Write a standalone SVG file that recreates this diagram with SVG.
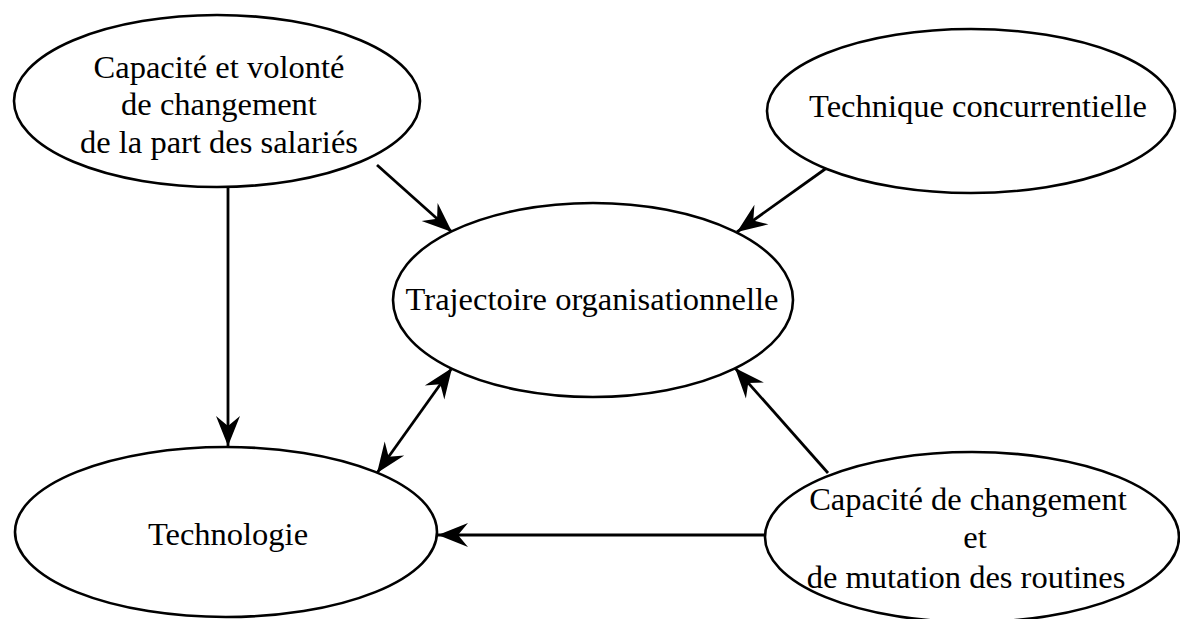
<svg xmlns="http://www.w3.org/2000/svg" width="1180" height="619" viewBox="0 0 1180 619">
  <style>
    .node ellipse { fill: #ffffff; stroke: #000000; stroke-width: 2.6; }
    .node text { font-family: "Liberation Serif", "Times New Roman", serif; font-size: 32.5px; fill: #000000; text-anchor: middle; }
    .edges line { stroke: #000000; stroke-width: 2.8; fill: none; }
  </style>
  <defs>
    <marker id="arrow" markerUnits="userSpaceOnUse" markerWidth="34" markerHeight="28" viewBox="-32 -14 34 28" refX="0" refY="0" orient="auto-start-reverse">
      <path d="M0,0 L-30,-12 L-20,0 L-30,12 Z" fill="#000000"/>
    </marker>
  </defs>

  <rect width="1180" height="619" fill="#ffffff"/>

  <g id="edges" class="edges">
    <line x1="228" y1="188" x2="228" y2="446" marker-end="url(#arrow)"/>
    <line x1="377" y1="165" x2="452" y2="232" marker-end="url(#arrow)"/>
    <line x1="828" y1="167" x2="737" y2="232" marker-end="url(#arrow)"/>
    <line x1="452" y1="368" x2="377" y2="473" marker-start="url(#arrow)" marker-end="url(#arrow)"/>
    <line x1="828" y1="473" x2="735" y2="368" marker-end="url(#arrow)"/>
    <line x1="765" y1="535" x2="438" y2="535" marker-end="url(#arrow)"/>
  </g>

  <g id="capacite-volonte" class="node">
    <ellipse cx="217" cy="101" rx="203" ry="86"/>
    <text x="219" y="78">Capacité et volonté</text>
    <text x="219" y="115">de changement</text>
    <text x="219" y="153">de la part des salariés</text>
  </g>

  <g id="technique-concurrentielle" class="node">
    <ellipse cx="971" cy="111" rx="204" ry="82"/>
    <text x="978" y="117">Technique concurrentielle</text>
  </g>

  <g id="trajectoire" class="node">
    <ellipse cx="593" cy="300" rx="200" ry="97"/>
    <text x="592" y="310">Trajectoire organisationnelle</text>
  </g>

  <g id="technologie" class="node">
    <ellipse cx="226" cy="532" rx="211" ry="85"/>
    <text x="228" y="545">Technologie</text>
  </g>

  <g id="capacite-mutation" class="node">
    <ellipse cx="972" cy="537" rx="207" ry="85"/>
    <text x="968" y="510">Capacité de changement</text>
    <text x="975" y="548">et</text>
    <text x="966" y="588">de mutation des routines</text>
  </g>
</svg>
